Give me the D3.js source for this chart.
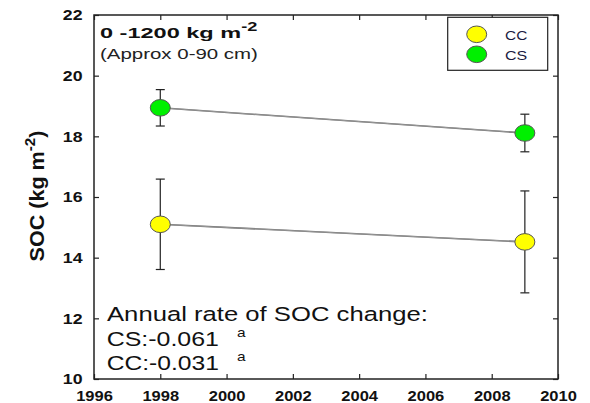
<!DOCTYPE html>
<html><head><meta charset="utf-8">
<script src="https://cdn.jsdelivr.net/npm/d3@7"></script>
<style>html,body{margin:0;padding:0;background:#fff;}svg{display:block;font-family:Arial,"Liberation Sans",sans-serif;}</style>
</head><body>
<script>
// ---- data ----
const years = [1998, 2009];
const ccMean = [15.10, 14.52];
const ccErr = [1.49, 1.68];
const csMean = [18.94, 18.11];
const csErr = [0.60, 0.62];
const seriesNames = ["CC", "CS"];
const seriesColors = ["#ffff00", "#00f000"];
const xTicks = [1996, 1998, 2000, 2002, 2004, 2006, 2008, 2010];
const yTicks = [10, 12, 14, 16, 18, 20, 22];
const rates = [["CS", "-0.061", "a"], ["CC", "-0.031", "a"]];

const W = 590, H = 403;
const L = 94, R = 558, T = 15, B = 379;
const svg = d3.select("body").append("svg").attr("width", W).attr("height", H);
svg.append("rect").attr("width", W).attr("height", H).attr("fill", "#fff");

const x = d3.scaleLinear().domain([1996, 2010]).range([L, R]);
const y = d3.scaleLinear().domain([10, 22]).range([B, T]);

// helper to stretch text horizontally to a target width
function fitText(sel, x0, y0, targetW) {
  const w = sel.node().getBBox().width;
  const s = targetW / w;
  sel.attr("transform", `translate(${x0},${y0}) scale(${s},1)`);
}

// axes (ticks inward, mirrored)
const tickSx = 1.18;
const gL = svg.append("g").attr("transform", `translate(${L},0)`)
  .call(d3.axisLeft(y).tickValues(yTicks).tickSize(-5).tickPadding(11.5).tickFormat(d3.format("d")));
const gR = svg.append("g").attr("transform", `translate(${R},0)`)
  .call(d3.axisRight(y).tickValues(yTicks).tickSize(-5).tickFormat(""));
const gB = svg.append("g").attr("transform", `translate(0,${B})`)
  .call(d3.axisBottom(x).tickValues(xTicks).tickSize(-5).tickPadding(11).tickFormat(d3.format("d")));
const gT = svg.append("g").attr("transform", `translate(0,${T})`)
  .call(d3.axisTop(x).tickValues(xTicks).tickSize(-5).tickFormat(""));
[gL, gR, gB, gT].forEach(g => {
  g.select(".domain").remove();
  g.selectAll(".tick line").attr("stroke", "#222").attr("stroke-width", 1.2);
  g.selectAll(".tick text").attr("font-size", 15).attr("font-weight", "bold")
    .attr("font-family", "Arial, 'Liberation Sans', sans-serif").attr("fill", "#111");
});
gL.selectAll(".tick text").each(function () {
  const t = d3.select(this); const xx = +t.attr("x");
  t.attr("x", 0).attr("transform", `translate(${xx},0) scale(${tickSx},1)`);
});
gB.selectAll(".tick text").each(function () {
  const t = d3.select(this);
  t.attr("transform", `scale(${1.1},1)`);
});
svg.append("rect").attr("x", L).attr("y", T).attr("width", R - L).attr("height", B - T)
  .attr("fill", "none").attr("stroke", "#222").attr("stroke-width", 1.5);

// y axis title
const yt = svg.append("text").attr("font-size", 17).attr("font-weight", "bold").attr("fill", "#111")
  .attr("text-anchor", "middle");
yt.append("tspan").text("SOC (kg m");
yt.append("tspan").text("-2").attr("font-size", 12).attr("dy", -7);
yt.append("tspan").text(")").attr("dy", 7);
{
  const w = yt.node().getBBox().width;
  yt.attr("transform", `translate(43.5,196) rotate(-90) scale(${131 / w},1.15)`);
}

// series
const series = [
  { name: "CC", mean: ccMean, err: ccErr, color: seriesColors[0] },
  { name: "CS", mean: csMean, err: csErr, color: seriesColors[1] }
];
const line = d3.line().x((d, i) => x(years[i])).y(d => y(d));
series.forEach(s => {
  svg.append("path").attr("d", line(s.mean)).attr("fill", "none")
    .attr("stroke", "#555").attr("stroke-width", 1.6).attr("opacity", 0.9);
  svg.append("path").attr("d", line(s.mean)).attr("fill", "none")
    .attr("stroke", "#aaa").attr("stroke-width", 0.7);
});
series.forEach(s => {
  const g = svg.append("g");
  years.forEach((yr, i) => {
    const cx = x(yr), lo = y(s.mean[i] - s.err[i]), hi = y(s.mean[i] + s.err[i]);
    g.append("line").attr("x1", cx).attr("x2", cx).attr("y1", lo).attr("y2", hi).attr("stroke", "#222").attr("stroke-width", 1.2);
    g.append("line").attr("x1", cx - 4.5).attr("x2", cx + 4.5).attr("y1", lo).attr("y2", lo).attr("stroke", "#222").attr("stroke-width", 1.2);
    g.append("line").attr("x1", cx - 4.5).attr("x2", cx + 4.5).attr("y1", hi).attr("y2", hi).attr("stroke", "#222").attr("stroke-width", 1.2);
  });
  g.selectAll("ellipse").data(s.mean).join("ellipse")
    .attr("cx", (d, i) => x(years[i])).attr("cy", d => y(d))
    .attr("rx", 10).attr("ry", 8.3)
    .attr("fill", s.color).attr("stroke", "#555").attr("stroke-width", 1);
});

// legend
svg.append("rect").attr("x", 447.7).attr("y", 17.3).attr("width", 100).attr("height", 53)
  .attr("fill", "#fff").attr("stroke", "#222").attr("stroke-width", 1.2);
series.forEach((s, i) => {
  const ly = 34.3 + i * 20;
  svg.append("ellipse").attr("cx", 476.7).attr("cy", ly).attr("rx", 10).attr("ry", 8.3)
    .attr("fill", s.color).attr("stroke", "#555").attr("stroke-width", 1);
  const t = svg.append("text").attr("font-size", 12.5).attr("fill", "#1a1a40").text(seriesNames[i]);
  fitText(t, 505, ly + 5.5, 22.3);
});

// title
const tt = svg.append("text").attr("font-size", 15.5).attr("font-weight", "bold").attr("fill", "#111");
tt.append("tspan").text("0 -1200 kg m");
tt.append("tspan").text("-2").attr("font-size", 12).attr("dy", -7);
fitText(tt, 100, 38, 158);
const st = svg.append("text").attr("font-size", 14.5).attr("fill", "#222").text("(Approx 0-90 cm)");
fitText(st, 100, 58.5, 158);

// annual rates
const at = svg.append("text").attr("font-size", 19.5).attr("fill", "#111").text("Annual rate of SOC change:");
fitText(at, 107, 321, 321);
rates.forEach((r, i) => {
  const by = 345.7 + i * 24.3;
  const t = svg.append("text").attr("font-size", 19.5).attr("fill", "#111").text(`${r[0]}:${r[1]}`);
  fitText(t, 106.7, by, 112.3);
  const sp = svg.append("text").attr("font-size", 13).attr("fill", "#111").text(r[2]);
  fitText(sp, 237, by - 9, 9.5);
});
</script>
</body></html>
